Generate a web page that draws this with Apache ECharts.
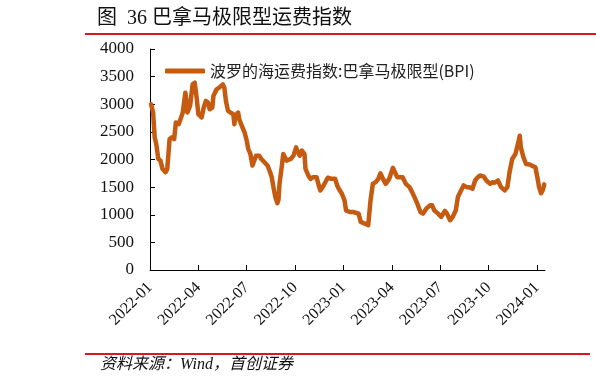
<!DOCTYPE html>
<html>
<head>
<meta charset="utf-8">
<script src="https://cdn.jsdelivr.net/npm/echarts@6/dist/echarts.min.js"></script>
<style>html,body{margin:0;padding:0;background:#fff;}#c{width:596px;height:388px;}</style>
</head>
<body>
<div id="c"></div>
<script>
const dates = ['2022-01-03','2022-01-07','2022-01-10','2022-01-13','2022-01-17','2022-01-21','2022-01-25','2022-01-31','2022-02-03','2022-02-07','2022-02-11','2022-02-15','2022-02-18','2022-02-23','2022-03-02','2022-03-07','2022-03-09','2022-03-11','2022-03-16','2022-03-21','2022-03-25','2022-03-29','2022-04-01','2022-04-07','2022-04-11','2022-04-15','2022-04-19','2022-04-22','2022-04-27','2022-04-29','2022-05-05','2022-05-10','2022-05-13','2022-05-17','2022-05-20','2022-05-23','2022-05-27','2022-06-01','2022-06-06','2022-06-08','2022-06-10','2022-06-15','2022-06-17','2022-06-23','2022-06-27','2022-07-01','2022-07-04','2022-07-08','2022-07-12','2022-07-15','2022-07-19','2022-07-25','2022-07-29','2022-08-04','2022-08-10','2022-08-15','2022-08-18','2022-08-22','2022-08-25','2022-08-29','2022-08-31','2022-09-02','2022-09-06','2022-09-09','2022-09-15','2022-09-23','2022-09-28','2022-10-03','2022-10-05','2022-10-10','2022-10-14','2022-10-19','2022-10-21','2022-10-27','2022-10-31','2022-11-04','2022-11-11','2022-11-15','2022-11-18','2022-11-24','2022-11-29','2022-12-02','2022-12-09','2022-12-16','2022-12-20','2022-12-23','2022-12-29','2023-01-03','2023-01-06','2023-01-13','2023-01-20','2023-01-30','2023-02-03','2023-02-10','2023-02-16','2023-02-20','2023-02-24','2023-03-01','2023-03-06','2023-03-10','2023-03-15','2023-03-20','2023-03-27','2023-04-03','2023-04-06','2023-04-11','2023-04-14','2023-04-21','2023-04-27','2023-05-04','2023-05-09','2023-05-12','2023-05-19','2023-05-25','2023-05-30','2023-06-05','2023-06-12','2023-06-16','2023-06-20','2023-06-27','2023-07-03','2023-07-10','2023-07-14','2023-07-20','2023-07-25','2023-07-31','2023-08-04','2023-08-10','2023-08-15','2023-08-21','2023-08-25','2023-09-01','2023-09-06','2023-09-11','2023-09-15','2023-09-22','2023-09-27','2023-10-04','2023-10-09','2023-10-13','2023-10-19','2023-10-25','2023-11-01','2023-11-06','2023-11-10','2023-11-15','2023-11-21','2023-11-27','2023-11-29','2023-12-01','2023-12-06','2023-12-11','2023-12-18','2023-12-22','2023-12-29','2024-01-03','2024-01-05','2024-01-09','2024-01-12','2024-01-15'];
const bpiValues = [3000,2850,2400,2280,2010,1980,1830,1770,1830,2370,2400,2370,2670,2640,2850,3210,3060,2850,2970,3360,3390,3090,2820,2760,2940,3060,3030,2910,2940,3150,3270,3300,3300,3360,3300,3060,2880,2850,2820,2640,2790,2850,2730,2580,2490,2340,2190,2100,1890,1920,2070,2070,2010,1950,1890,1770,1680,1470,1320,1210,1270,1560,1860,2100,1980,2010,2070,2220,2160,2070,2160,2100,1830,1700,1650,1680,1680,1530,1440,1530,1620,1670,1650,1650,1530,1470,1380,1260,1080,1050,1050,1020,870,840,810,1260,1560,1590,1650,1750,1650,1560,1650,1850,1830,1680,1650,1680,1560,1500,1410,1350,1200,1050,1020,1110,1170,1170,1080,1020,960,1070,1020,900,960,1080,1320,1440,1530,1500,1500,1470,1620,1680,1710,1690,1620,1560,1590,1580,1620,1500,1440,1500,1770,2010,2100,2340,2430,2220,2040,1920,1910,1890,1860,1620,1500,1390,1440,1550];
const tickLabels = ['2022-01','2022-04','2022-07','2022-10','2023-01','2023-04','2023-07','2023-10','2024-01'];
const seriesName = '波罗的海运费指数:巴拿马极限型(BPI)';

function monthPos(s) {
  const [y, m, d] = s.split('-').map(Number);
  const dim = new Date(y, m, 0).getDate();
  return (y - 2022) * 12 + (m - 1) + (d - 1) / dim;
}
const tickPos = tickLabels.map(s => monthPos(s + '-01'));
const data = dates.map((d, i) => [monthPos(d), bpiValues[i]]);

const chart = echarts.init(document.getElementById('c'));
const serif = 'Liberation Serif';
chart.setOption({
  animation: false,
  backgroundColor: '#fff',
  grid: { left: 150, right: 51, top: 49, bottom: 118, containLabel: false },
  legend: {
    left: 160, top: 58,
    itemWidth: 40, itemHeight: 5, icon: 'roundRect',
    textStyle: { fontFamily: 'Noto Sans CJK SC', fontSize: 16, color: '#222' },
    data: [seriesName]
  },
  xAxis: {
    type: 'value', min: 0, max: 24.5,
    splitLine: { show: false },
    axisLine: { lineStyle: { color: '#000', width: 1 } },
    axisTick: { inside: true, length: 5, lineStyle: { color: '#000' }, customValues: tickPos },
    axisLabel: {
      customValues: tickPos, rotate: 45, margin: 15,
      fontFamily: serif, fontSize: 16, color: '#111',
      formatter: v => { const i = tickPos.findIndex(p => Math.abs(p - v) < 1e-6); return i >= 0 ? tickLabels[i] : ''; }
    }
  },
  yAxis: {
    type: 'value', min: 0, max: 4000, interval: 500,
    splitLine: { show: false },
    axisLine: { show: true, lineStyle: { color: '#000', width: 1 } },
    axisTick: { show: true, inside: true, length: 5, lineStyle: { color: '#000' } },
    axisLabel: { margin: 16, fontFamily: serif, fontSize: 17, color: '#111', formatter: v => String(v) }
  },
  series: [{
    name: seriesName, type: 'line', data: data,
    symbol: 'none', smooth: false,
    lineStyle: { color: '#C55A11', width: 4.5, cap: 'round', join: 'round' },
    itemStyle: { color: '#C55A11' }
  }],
  graphic: [
    { type: 'text', left: 97, top: 9, style: { text: '图  36 巴拿马极限型运费指数', fontFamily: 'Liberation Serif, Noto Sans CJK SC', fontSize: 20, fill: '#111' } },
    { type: 'rect', shape: { x: 85, y: 33, width: 511, height: 2 }, style: { fill: '#D7191C' } },
    { type: 'rect', shape: { x: 85, y: 353, width: 505, height: 2 }, style: { fill: '#D7191C' } },
    { type: 'text', left: 100, top: 357, style: { text: '资料来源：Wind，首创证券', fontFamily: 'Liberation Serif, Noto Sans CJK SC', fontStyle: 'italic', fontSize: 16, fill: '#111' } }
  ]
});
</script>
</body>
</html>
